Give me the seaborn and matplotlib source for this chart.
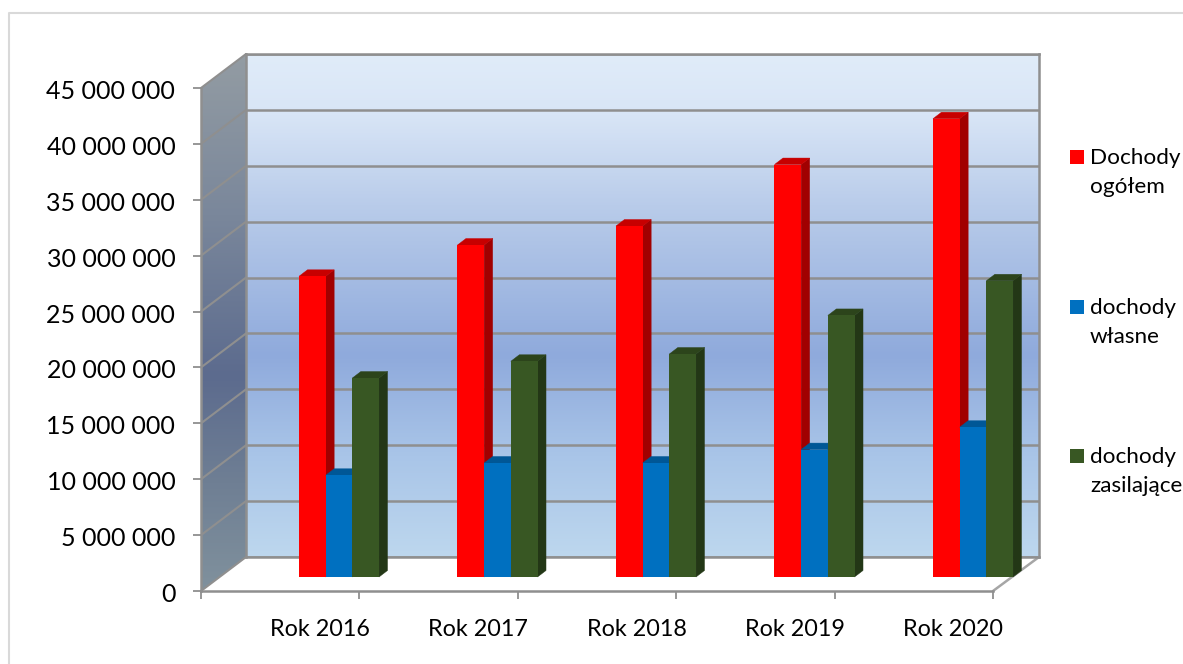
import numpy as np
import pandas as pd
import matplotlib
matplotlib.use("Agg")
import matplotlib.pyplot as plt
from matplotlib.colors import LinearSegmentedColormap, to_rgb
from matplotlib.patches import Polygon, Rectangle
from matplotlib.transforms import Affine2D, IdentityTransform
import seaborn as sns

years = ["Rok 2016", "Rok 2017", "Rok 2018", "Rok 2019", "Rok 2020"]
dochody_ogolem = [26.9e6, 29.7e6, 31.4e6, 36.9e6, 41.0e6]
dochody_wlasne = [9.1e6, 10.2e6, 10.2e6, 11.4e6, 13.4e6]
dochody_zasilajace = [17.8e6, 19.3e6, 19.95e6, 23.4e6, 26.5e6]
series_names = ["Dochody\nogółem", "dochody\nwłasne", "dochody\nzasilające"]
series_colors = ["#FF0000", "#0070C0", "#385723"]
y_ticks = [0, 5e6, 10e6, 15e6, 20e6, 25e6, 30e6, 35e6, 40e6, 45e6]
y_labels = ["0", "5 000 000", "10 000 000", "15 000 000", "20 000 000",
            "25 000 000", "30 000 000", "35 000 000", "40 000 000", "45 000 000"]

W, H = 1183, 664
GRAY = "#8F8F8F"
DX, DY = 8.5, 6.5  # bar depth in px

sns.set_theme(style="white")
plt.rcParams["font.family"] = ["Lato", "DejaVu Sans"]
plt.rcParams["text.color"] = "#000000"

fig = plt.figure(figsize=(W / 100, H / 100), dpi=100, facecolor="white")


def px_axes(left, top, right, bottom, z):
    ax = fig.add_axes([left / W, 1 - bottom / H, (right - left) / W, (bottom - top) / H])
    ax.set_zorder(z)
    ax.patch.set_alpha(0)
    return ax


# decoration layer in pixel coords: chart border, left wall, floor
deco = px_axes(0, 0, W, H, 0)
deco.set_xlim(0, W)
deco.set_ylim(H, 0)
deco.axis("off")
deco.plot([9, 9, W], [H, 13, 13], color="#D9D9D9", lw=1.5)

wall_cmap = LinearSegmentedColormap.from_list(
    "wall", [(0, "#E0ECF9"), (0.12, "#D8E5F6"), (0.3, "#B9CCEA"), (0.6, "#8FAADC"),
             (0.8, "#A9C5E8"), (1, "#BDD7EE")])
side_cmap = LinearSegmentedColormap.from_list(
    "side", [(0, "#939CA3"), (0.3, "#7A879B"), (0.6, "#5C6B8E"), (0.8, "#6F7F94"), (1, "#80919D")])
grad = np.linspace(0, 1, 256).reshape(-1, 1)

side_img = deco.imshow(grad, cmap=side_cmap, extent=(201, 246, 591, 54), aspect="auto", zorder=1)
side_poly = Polygon([(201, 88), (246, 54), (246, 557), (201, 591)], closed=True,
                    facecolor="none", edgecolor="none", transform=deco.transData)
deco.add_patch(side_poly)
side_img.set_clip_path(side_poly)
deco.set_xlim(0, W)
deco.set_ylim(H, 0)

# back wall with gridlines
ax_wall = px_axes(246, 54, 1039, 557, 1)
ax_wall.imshow(grad, cmap=wall_cmap, extent=(0, 1, 0, 45e6), aspect="auto", zorder=0)
ax_wall.set_xlim(0, 1)
ax_wall.set_ylim(0, 45e6)
ax_wall.set_yticks(y_ticks)
ax_wall.set_xticks([])
ax_wall.tick_params(left=False, labelleft=False)
ax_wall.grid(axis="y", color=GRAY, lw=1.8, zorder=1)
ax_wall.set_axisbelow(False)
for s in ax_wall.spines.values():
    s.set_color(GRAY)
    s.set_linewidth(1.8)

# front plane: the axes the ticks belong to
ax_front = px_axes(201, 88, 993, 591, 2)
ax_front.set_xlim(0, 5)
ax_front.set_ylim(0, 45e6)
ax_front.set_yticks(y_ticks)
ax_front.set_yticklabels(y_labels, fontsize=18)
ax_front.set_xticks(range(6))
ax_front.set_xticklabels([])
ax_front.set_xticks(np.arange(5) + 0.75, years, minor=True, fontsize=16.8)
ax_front.tick_params(axis="y", left=True, length=5.5, width=1.3, color=GRAY, pad=13, labelcolor="black")
ax_front.tick_params(axis="x", which="major", bottom=True, length=5.5, width=1.3, color=GRAY)
ax_front.tick_params(axis="x", which="minor", bottom=False, length=0, pad=20, labelcolor="black")
for lab in ax_front.get_yticklabels():
    lab.set_transform(lab.get_transform() + Affine2D().translate(0, -1.5))
for name, s in ax_front.spines.items():
    s.set_visible(name in ("left", "bottom"))
    s.set_color(GRAY)
    s.set_linewidth(1.8)

# diagonals across the left wall and floor edges
fig.canvas.draw()
for v in y_ticks:
    y0 = H - ax_front.transData.transform((0, v))[1]
    deco.plot([201, 246], [y0, y0 - 34], color=GRAY, lw=1.5, zorder=2, solid_capstyle="round")
deco.plot([993, 1039], [591, 557], color="#A6A6A6", lw=1.8, zorder=2)

# bars
df = pd.DataFrame({
    "rok": years * 3,
    "wartosc": dochody_ogolem + dochody_wlasne + dochody_zasilajace,
    "seria": sum([[n] * len(years) for n in series_names], []),
})
ax_bars = px_axes(339 - 79.25, 577 - 503, 339 - 79.25 + 792.5, 577, 3)
sns.barplot(data=df, x="rok", y="wartosc", hue="seria", palette=series_colors, saturation=1,
            width=0.505, gap=0, legend=False, linewidth=0, edgecolor="none", ax=ax_bars)
ax_bars.set_xlim(-0.5, 4.5)
ax_bars.set_ylim(0, 45e6)
ax_bars.axis("off")

fig.canvas.draw()
for i, cont in enumerate(ax_bars.containers):
    base = to_rgb(series_colors[i])
    side_col = tuple(c * 0.63 for c in base)
    top_col = tuple(c * 0.78 for c in base)
    for bar in cont:
        (x0, y0), (x1, y1) = ax_bars.transData.transform(
            [(bar.get_x(), 0), (bar.get_x() + bar.get_width(), bar.get_height())])
        z = 3 + i * 3
        side = Polygon([(x1, y0), (x1 + DX, y0 + DY), (x1 + DX, y1 + DY), (x1, y1)],
                       facecolor=side_col, edgecolor=side_col, lw=0.3, transform=IdentityTransform(),
                       clip_on=False, zorder=z)
        top = Polygon([(x0, y1), (x0 + DX, y1 + DY), (x1 + DX, y1 + DY), (x1, y1)],
                      facecolor=top_col, edgecolor=top_col, lw=0.3, transform=IdentityTransform(),
                      clip_on=False, zorder=z + 1)
        ax_bars.add_patch(side)
        ax_bars.add_patch(top)
        bar.set_zorder(z + 2)

# legend
legend_tops = [150, 300, 449]
for name, col, t in zip(series_names, series_colors, legend_tops):
    deco.add_patch(Rectangle((1070, t), 14, 14, facecolor=col, edgecolor="none", zorder=3))
    fig.text(1090 / W, 1 - (t - 2) / H, name, fontsize=16.2, va="top", ha="left", linespacing=1.55)

fig.savefig("out.png", dpi=100)
